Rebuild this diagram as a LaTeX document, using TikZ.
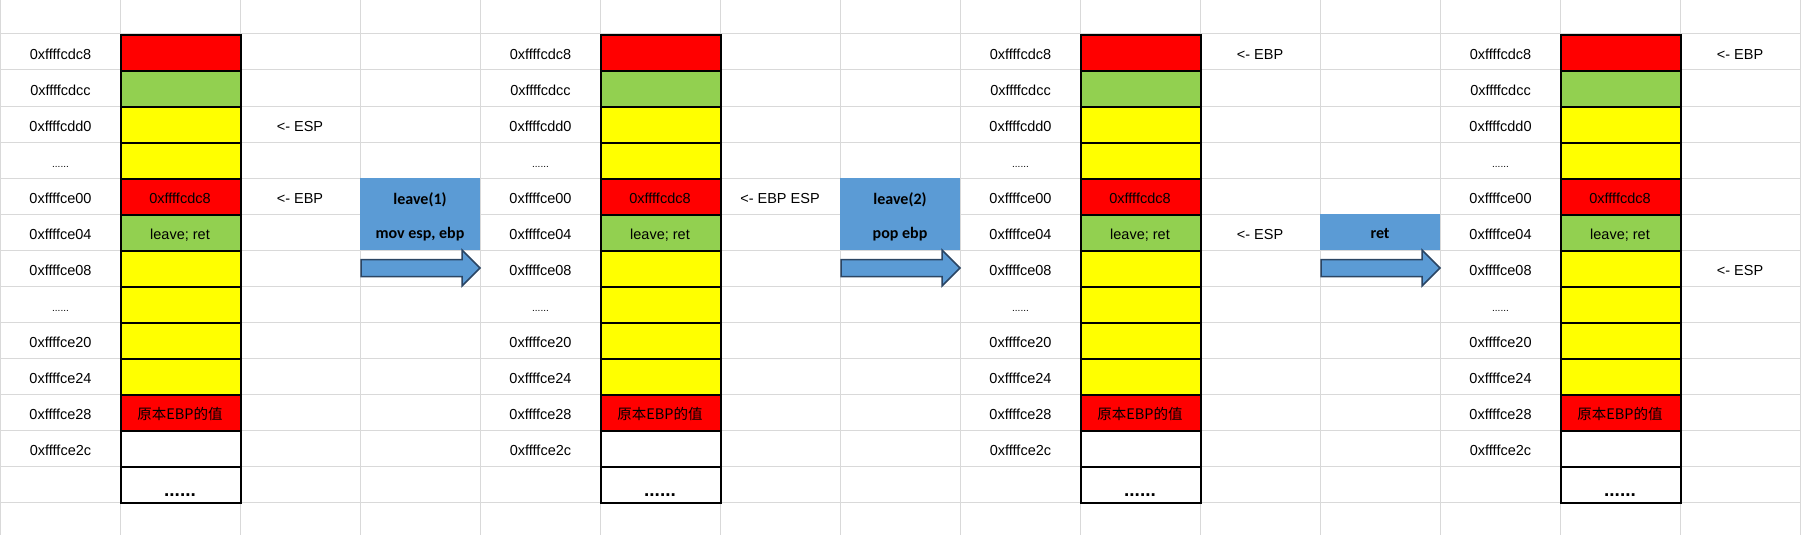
\documentclass[tikz,border=0pt]{standalone}
\usepackage{fontspec}
\setmainfont{Liberation Sans}
\newfontfamily\cjk{Noto Sans CJK SC}
\newfontfamily\boxfont{Carlito}
\definecolor{cred}{HTML}{FF0000}
\definecolor{cgreen}{HTML}{92D050}
\definecolor{cyellow}{HTML}{FFFF00}
\definecolor{cblue}{HTML}{5B9BD5}
\definecolor{cgrid}{HTML}{D9D9D9}
\definecolor{carrowline}{HTML}{2B4563}
\begin{document}
\begin{tikzpicture}[x=1pt,y=-1pt,
  gridline/.style={draw=cgrid,line width=1pt},
  cell/.style={draw=black,line width=2pt,minimum width=120pt,minimum height=36pt,inner sep=0pt,anchor=north west},
  txt/.style={font=\fontsize{14.5}{16}\selectfont,anchor=base,inner sep=0pt},
  smalldots/.style={font=\fontsize{10}{12}\selectfont,anchor=base,inner sep=0pt},
  bigdots/.style={font=\bfseries\fontsize{19}{20}\selectfont,anchor=base,inner sep=0pt},
  opbox/.style={fill=cblue,minimum width=120pt,inner sep=0pt,anchor=north west},
  optxt/.style={font=\boxfont\bfseries\fontsize{16}{18}\selectfont,anchor=base,inner sep=0pt},
  arrowshape/.style={fill=cblue,draw=carrowline,line width=1.5pt,line join=miter}]
\useasboundingbox (0,0) rectangle (1801,535);
\fill[white] (0,0) rectangle (1801,535);
% grid
\foreach \k in {0,...,15} \draw[gridline] (120*\k+0.5,0) -- (120*\k+0.5,535);
\foreach \j in {0,...,13} \draw[gridline] (0,34+36*\j) -- (1801,34+36*\j);
% operation boxes
\node[opbox,minimum height=72pt] (op1) at (360,178) {};
\node[opbox,minimum height=72pt] (op2) at (840,178) {};
\node[opbox,minimum height=36pt] (op3) at (1320,214) {};
\node[optxt] (op1a) at (420,204) {leave(1)};
\node[optxt] (op1b) at (420,238.5) {mov esp, ebp};
\node[optxt] (op2a) at (900,204) {leave(2)};
\node[optxt] (op2b) at (900,238.5) {pop ebp};
\node[optxt] (op3a) at (1380,238.5) {ret};
% block arrows
\foreach \n/\xa in {1/361,2/841,3/1321} {
  \coordinate (arr\n) at (\xa,268);
  \draw[arrowshape] (arr\n) ++(0,-8.5) -- ++(101,0) -- ++(0,-9.5) -- ++(18,18)
    -- ++(-18,18) -- ++(0,-9.5) -- ++(-101,0) -- cycle;
}
% stacks
\foreach \s in {0,1,2,3} {
  \pgfmathsetmacro\xo{480*\s}
  \foreach \r/\fc/\tx in {0/cred/{},1/cgreen/{},2/cyellow/{},3/cyellow/{},
      4/cred/{0xffffcdc8},5/cgreen/{leave; ret},6/cyellow/{},7/cyellow/{},
      8/cyellow/{},9/cyellow/{},10/cred/{\cjk 原本EBP的值},11/white/{},12/white/{}} {
    \node[cell,fill=\fc] (c\s-\r) at (\xo+120,34+36*\r) {};
    \node[txt] (t\s-\r) at (\xo+180,34+36*\r+25.3) {\tx};
  }
  \node[bigdots] (d\s) at (\xo+180,496) {......};
  \foreach \r/\ad in {0/0xffffcdc8,1/0xffffcdcc,2/0xffffcdd0,4/0xffffce00,5/0xffffce04,
      6/0xffffce08,8/0xffffce20,9/0xffffce24,10/0xffffce28,11/0xffffce2c} {
    \node[txt] (a\s-\r) at (\xo+60.5,34+36*\r+25.3) {\ad};
  }
  \foreach \r in {3,7} {
    \node[smalldots] (a\s-\r) at (\xo+60.5,34+36*\r+25) {......};
  }
}
% pointer labels
\node[txt] (l0esp) at (300,34+36*2+25.3) {<- ESP};
\node[txt] (l0ebp) at (300,34+36*4+25.3) {<- EBP};
\node[txt] (l1both) at (780,34+36*4+25.3) {<- EBP ESP};
\node[txt] (l2ebp) at (1260,34+25.3) {<- EBP};
\node[txt] (l2esp) at (1260,34+36*5+25.3) {<- ESP};
\node[txt] (l3ebp) at (1740,34+25.3) {<- EBP};
\node[txt] (l3esp) at (1740,34+36*6+25.3) {<- ESP};
\end{tikzpicture}
\end{document}
